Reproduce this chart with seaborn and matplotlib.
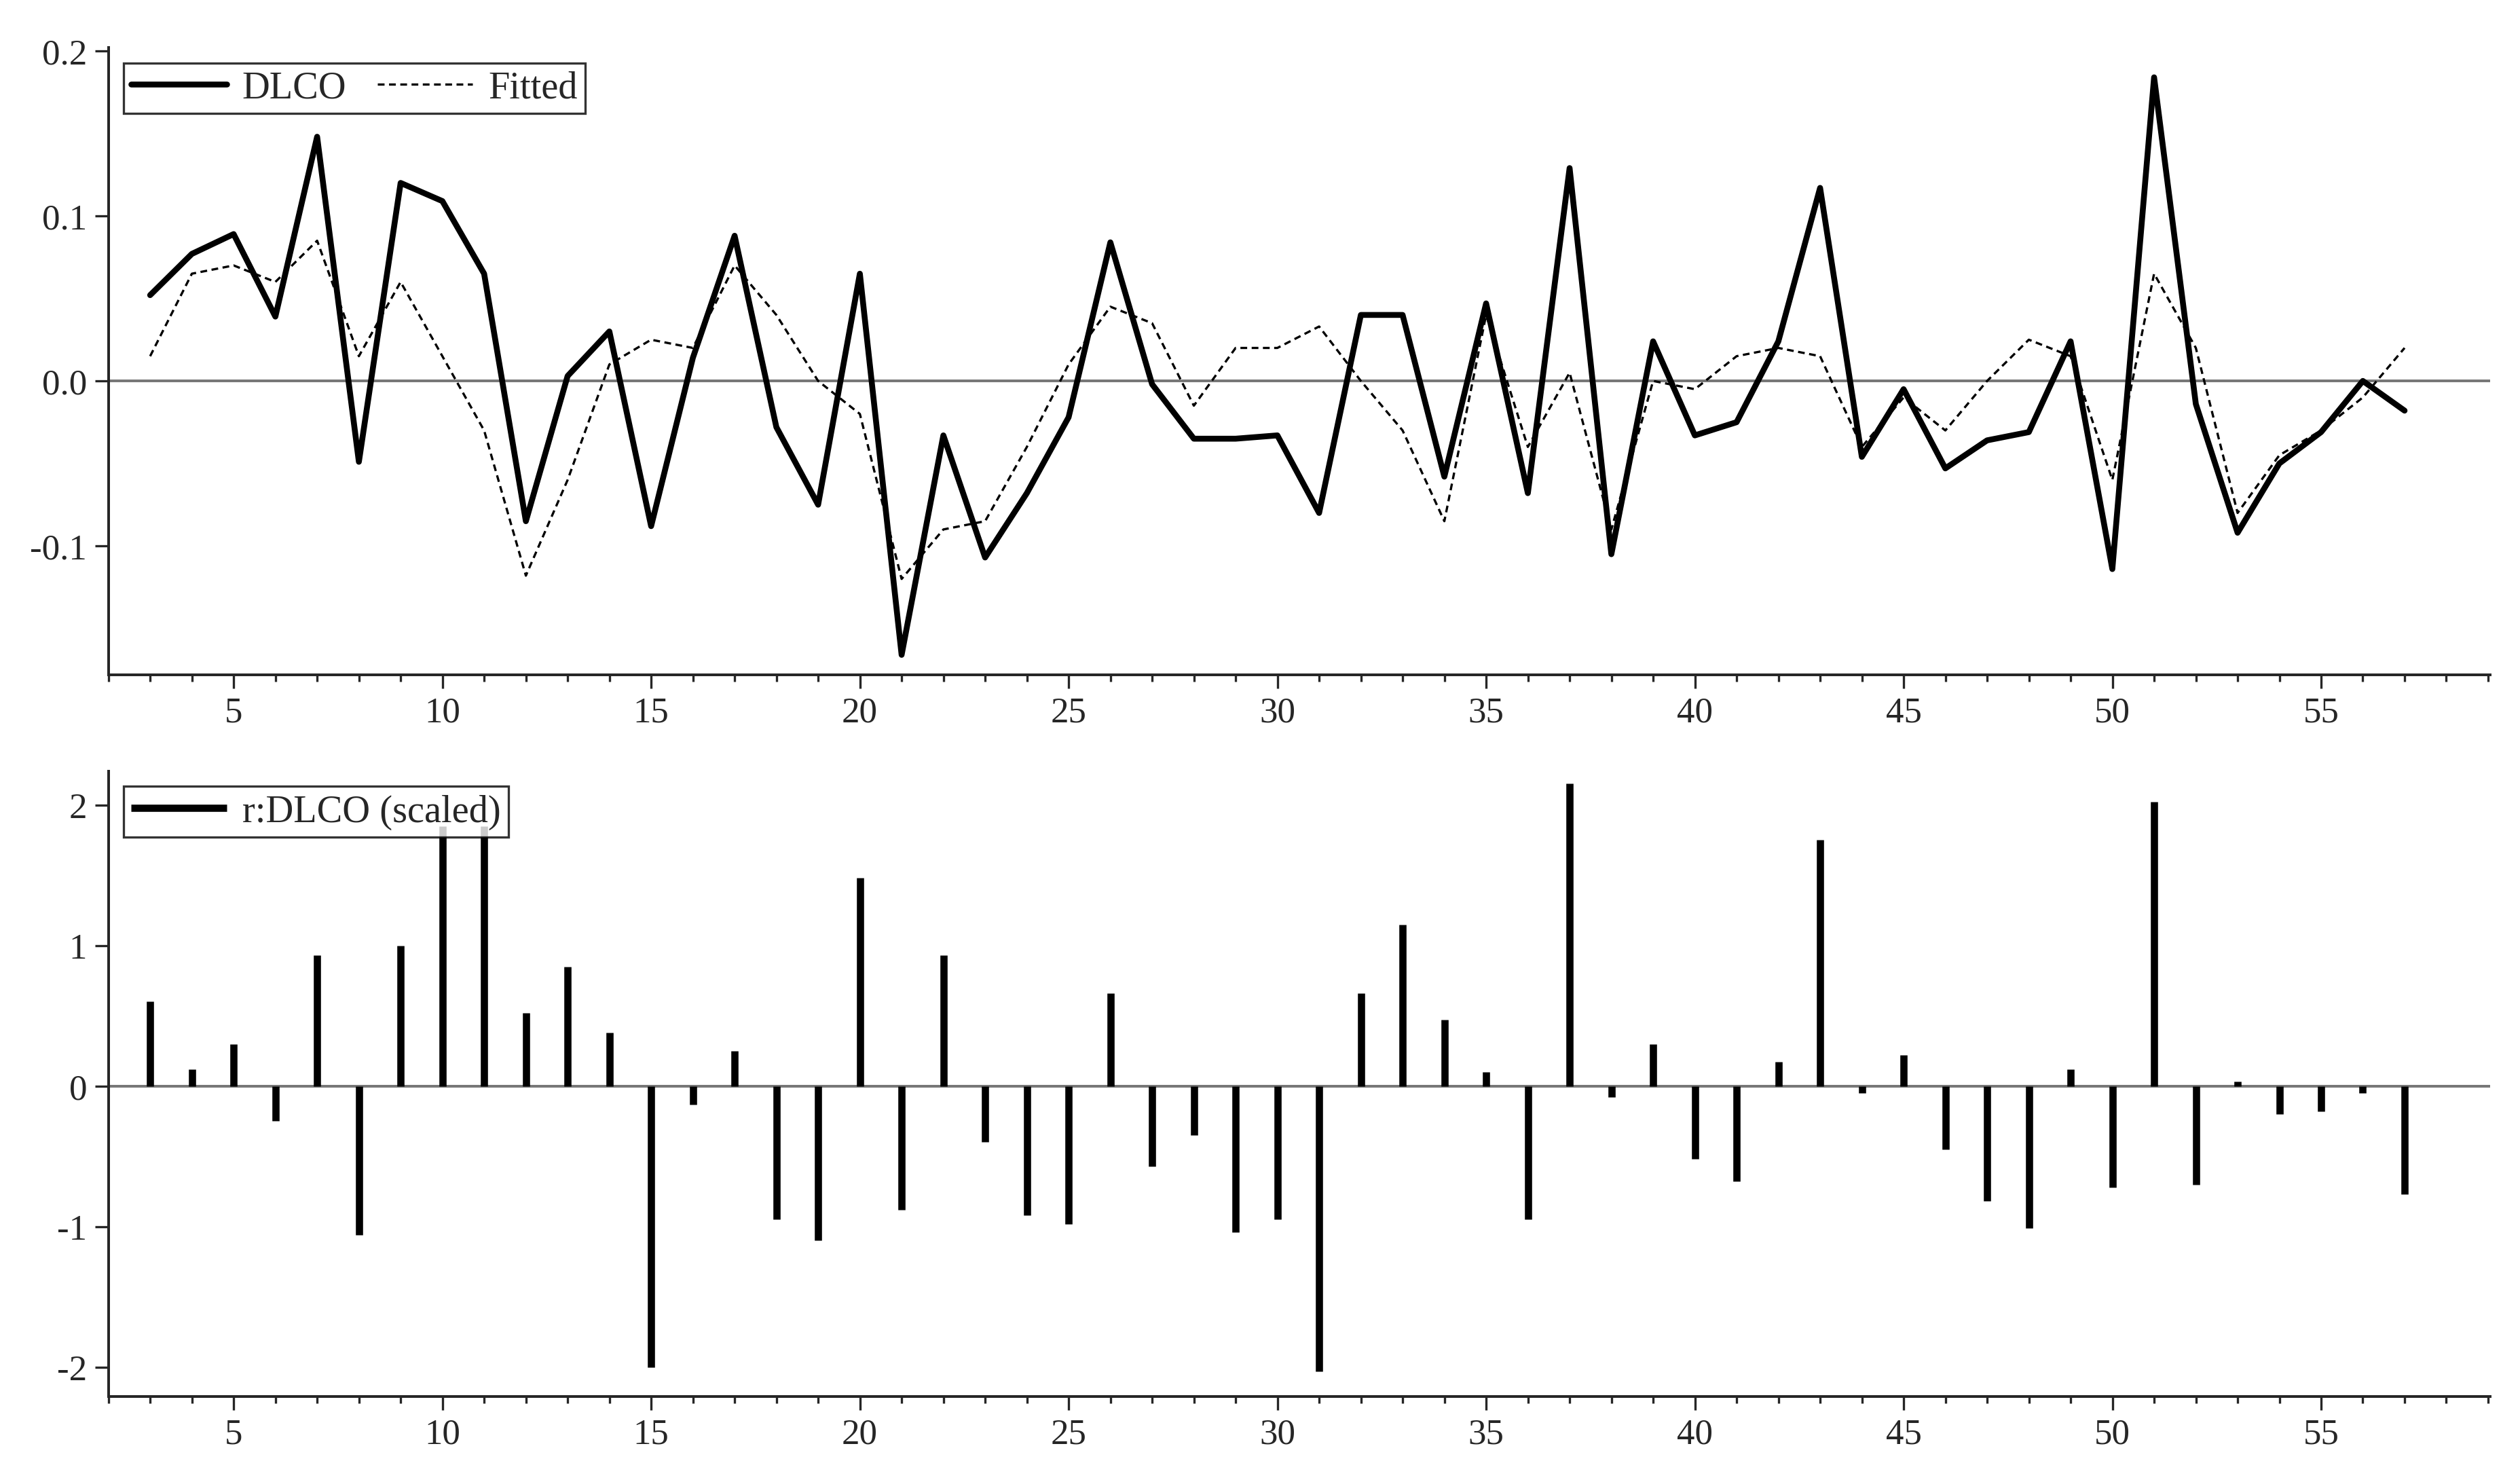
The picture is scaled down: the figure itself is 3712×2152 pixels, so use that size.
import numpy as np
import pandas as pd
import matplotlib
matplotlib.use("Agg")
import matplotlib.pyplot as plt
import seaborn as sns
from matplotlib.ticker import MultipleLocator

obs = list(range(3, 58))
dlco = [0.052, 0.077, 0.089, 0.039, 0.148, -0.049, 0.120, 0.109, 0.065, -0.085,
        0.003, 0.030, -0.088, 0.014, 0.088, -0.028, -0.075, 0.065, -0.166, -0.033,
        -0.107, -0.068, -0.022, 0.084, -0.002, -0.035, -0.035, -0.033, -0.080, 0.040,
        0.040, -0.058, 0.047, -0.068, 0.129, -0.105, 0.024, -0.033, -0.025, 0.024,
        0.117, -0.046, -0.005, -0.053, -0.036, -0.031, 0.024, -0.114, 0.184, -0.014,
        -0.092, -0.050, -0.031, 0.000, -0.018]
fitted = [0.015, 0.065, 0.070, 0.060, 0.085, 0.015, 0.060, 0.015, -0.030, -0.118,
          -0.060, 0.010, 0.025, 0.020, 0.070, 0.040, 0.000, -0.020, -0.120, -0.090,
          -0.085, -0.040, 0.010, 0.045, 0.035, -0.015, 0.020, 0.020, 0.033, 0.000,
          -0.030, -0.085, 0.040, -0.040, 0.005, -0.090, 0.000, -0.005, 0.015, 0.020,
          0.015, -0.040, -0.010, -0.030, 0.000, 0.025, 0.015, -0.060, 0.065, 0.020,
          -0.080, -0.045, -0.030, -0.010, 0.020]
resid = [0.60, 0.12, 0.30, -0.25, 0.93, -1.06, 1.00, 1.85, 1.85, 0.52,
         0.85, 0.38, -2.00, -0.13, 0.25, -0.95, -1.10, 1.48, -0.88, 0.93,
         -0.40, -0.92, -0.98, 0.66, -0.57, -0.35, -1.04, -0.95, -2.03, 0.66,
         1.15, 0.47, 0.10, -0.95, 2.15, -0.08, 0.30, -0.52, -0.68, 0.17,
         1.75, -0.05, 0.22, -0.45, -0.82, -1.01, 0.12, -0.72, 2.02, -0.70,
         0.03, -0.20, -0.18, -0.05, -0.77]

df = pd.DataFrame({"obs": obs, "DLCO": dlco, "Fitted": fitted, "resid": resid})

sns.set_style("ticks")
plt.rcParams['font.family'] = ['Liberation Serif', 'DejaVu Serif']
plt.rcParams['font.size'] = 15
plt.rcParams['axes.unicode_minus'] = False

fig = plt.figure(figsize=(15.56, 9.023), dpi=238.6)
ax1 = fig.add_axes([0.043, 0.538, 0.945, 0.429])
ax2 = fig.add_axes([0.043, 0.044, 0.945, 0.428])

sns.lineplot(data=df, x="obs", y="DLCO", ax=ax1, color="black", linewidth=2.6, label="DLCO")
sns.lineplot(data=df, x="obs", y="Fitted", ax=ax1, color="black", linewidth=1.0,
             linestyle=(0, (3, 2)), label="Fitted")
ax1.axhline(0, color="#777777", linewidth=1.2, zorder=0)
ax1.set_ylim(-0.178, 0.202)
ax1.set_yticks([-0.1, 0.0, 0.1, 0.2])
ax1.set_yticklabels(["-0.1", "0.0", "0.1", "0.2"])
leg = ax1.legend(loc="upper left", ncol=2, frameon=True, fancybox=False, edgecolor="black",
                 handlelength=2.5, columnspacing=0.8, borderaxespad=0.4, borderpad=0.2,
                 handletextpad=0.4, fontsize=17)
leg.get_frame().set_linewidth(1.0)

ax2.vlines(df["obs"], 0, df["resid"], color="black", linewidth=3.2, label="r:DLCO (scaled)")
ax2.axhline(0, color="#777777", linewidth=1.2, zorder=0)
ax2.set_ylim(-2.21, 2.24)
ax2.set_yticks([-2, -1, 0, 1, 2])
leg2 = ax2.legend(loc="upper left", frameon=True, fancybox=False, edgecolor="black",
                  handlelength=2.5, borderaxespad=0.4, borderpad=0.2, handletextpad=0.4,
                  fontsize=17)
leg2.get_frame().set_linewidth(1.0)

for ax in (ax1, ax2):
    ax.set_xlim(2, 59.05)
    ax.xaxis.set_major_locator(MultipleLocator(5))
    ax.xaxis.set_minor_locator(MultipleLocator(1))
    ax.set_xlabel("")
    ax.set_ylabel("")
    for s in ax.spines.values():
        s.set_linewidth(1.2)
    ax.spines["top"].set_visible(False)
    ax.spines["right"].set_visible(False)
    ax.tick_params(direction="out", length=6, width=1, labelsize=16)
    ax.tick_params(which="minor", direction="out", length=3, width=1)

fig.savefig("out.png", dpi=238.6)
